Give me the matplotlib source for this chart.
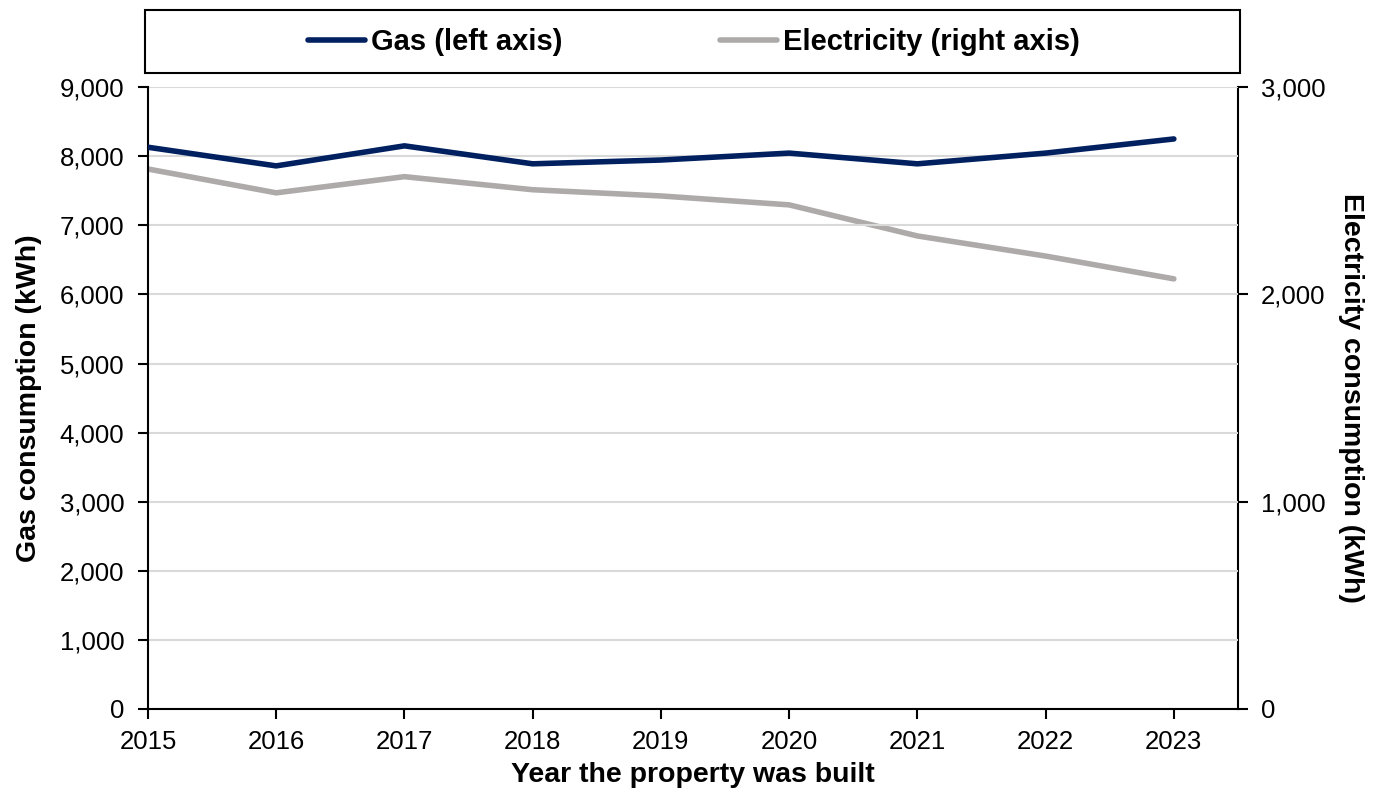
import matplotlib.pyplot as plt
from matplotlib.patches import Rectangle
from matplotlib.ticker import FuncFormatter

plt.rcParams['font.family'] = ['Liberation Sans', 'DejaVu Sans']

years = [2015, 2016, 2017, 2018, 2019, 2020, 2021, 2022, 2023]
gas = [8130, 7860, 8150, 7890, 7945, 8045, 7890, 8045, 8250]
electricity = [2605, 2490, 2568, 2505, 2475, 2432, 2282, 2185, 2075]

gas_color = "#002060"
elec_color = "#AEAAAA"

fig = plt.figure(figsize=(13.84, 7.92), dpi=100)
ax = fig.add_axes([0.1069, 0.1048, 0.7876, 0.7852])
ax2 = ax.twinx()

ax.plot(years, gas, color=gas_color, lw=4, solid_capstyle="round", label="Gas (left axis)", zorder=3)
ax2.plot(years, electricity, color=elec_color, lw=4, solid_capstyle="round", label="Electricity (right axis)")

ax.set_xlim(2015, 2023.5)
ax.set_ylim(0, 9000)
ax2.set_ylim(0, 3000)
ax.set_xticks(years)
ax.set_yticks(range(0, 9001, 1000))
ax2.set_yticks(range(0, 3001, 1000))

fmt = FuncFormatter(lambda v, p: f"{int(v):,}")
ax.yaxis.set_major_formatter(fmt)
ax2.yaxis.set_major_formatter(fmt)

ax.grid(axis="y", color="#D9D9D9", lw=1.5)
ax.set_axisbelow(True)

for a in (ax, ax2):
    a.spines["top"].set_visible(False)
    for s in a.spines.values():
        s.set_linewidth(1.5)
    a.tick_params(labelsize=18.5, width=1.5, length=7, direction="out", colors="black")
ax.tick_params(axis="x", pad=8)
ax.tick_params(axis="y", pad=10)
ax2.tick_params(axis="y", pad=9.5)
ax.spines["right"].set_visible(False)
ax2.spines["left"].set_visible(False)
ax2.spines["bottom"].set_visible(False)

# keep the navy line on top of the grey one
ax.set_zorder(ax2.get_zorder() + 1)
ax.patch.set_visible(False)

ax.set_xlabel("Year the property was built", fontsize=20.5, fontweight="bold", labelpad=6)
ax.set_ylabel("Gas consumption (kWh)", fontsize=20.5, fontweight="bold", labelpad=13)
ax2.set_ylabel("Electricity consumption (kWh)", fontsize=20.5, fontweight="bold", rotation=-90, labelpad=28)

# legend box across the top
fig.patches.append(Rectangle((145 / 1384, 1 - 73 / 792), 1095 / 1384, 63 / 792,
                             transform=fig.transFigure, fill=False, ec="black", lw=1.5))
h1, l1 = ax.get_legend_handles_labels()
h2, l2 = ax2.get_legend_handles_labels()
leg = fig.legend(h1 + h2, l1 + l2, loc="center", bbox_to_anchor=(694 / 1384, 1 - 42 / 792),
                 ncol=2, frameon=False, handlelength=1.95, columnspacing=5.4,
                 prop={"weight": "bold", "size": 21}, handletextpad=0.2)

fig.savefig("out.png", dpi=100)
